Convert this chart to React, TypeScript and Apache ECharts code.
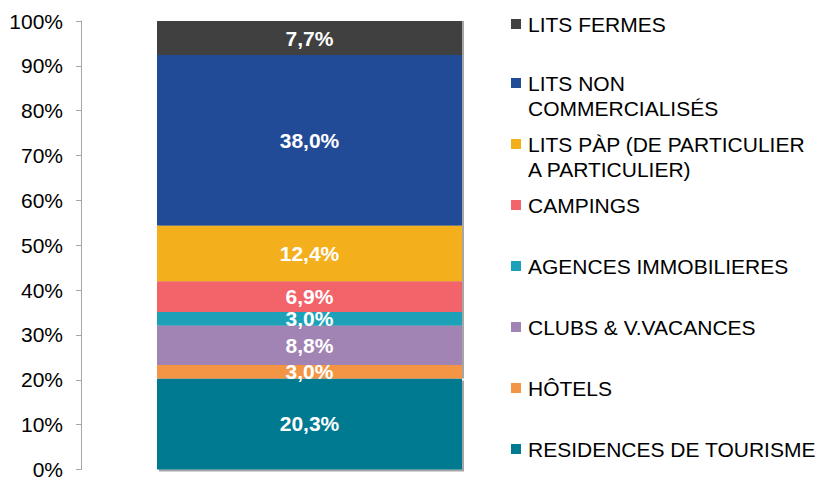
import React, { useEffect, useRef } from "react";
import * as echarts from "echarts";

// Stack order: bottom to top
const seriesNames = [
  "RESIDENCES DE TOURISME",
  "HÔTELS",
  "CLUBS & V.VACANCES",
  "AGENCES IMMOBILIERES",
  "CAMPINGS",
  "LITS PÀP (DE PARTICULIER A PARTICULIER)",
  "LITS NON COMMERCIALISÉS",
  "LITS FERMES",
];
const legendLabels = [
  "RESIDENCES DE TOURISME",
  "HÔTELS",
  "CLUBS & V.VACANCES",
  "AGENCES IMMOBILIERES",
  "CAMPINGS",
  "LITS PÀP (DE PARTICULIER\nA PARTICULIER)",
  "LITS NON\nCOMMERCIALISÉS",
  "LITS FERMES",
];
const values = [20.3, 3.0, 8.8, 3.0, 6.9, 12.4, 38.0, 7.7];
const colors = ["#007A91", "#F49545", "#A184B3", "#1CA1B8", "#F2636B", "#F3AF1B", "#214C97", "#404040"];
const categories = [""];

const FONT = "Liberation Sans, Arial, sans-serif";

export default function App() {
  const ref = useRef<HTMLDivElement>(null);
  useEffect(() => {
    if (!ref.current) return;
    const chart = echarts.init(ref.current, null, { renderer: "svg" });
    const n = seriesNames.length;
    const series = seriesNames.map((name, i) => ({
      name,
      type: "bar",
      stack: "total",
      barWidth: 305,
      data: [values[i]],
      itemStyle: {
        color: colors[i],
        shadowColor: "rgba(0,0,0,0.35)",
        shadowOffsetX: 2,
        shadowOffsetY: i === 0 ? 2 : 0,
        shadowBlur: 1,
      },
      label: {
        show: true,
        position: "inside",
        color: "#fff",
        fontWeight: "bold",
        fontSize: 21,
        fontFamily: FONT,
        formatter: (p: any) => p.value.toFixed(1).replace(".", ",") + "%",
      },
    }));
    const graphic: any[] = [];
    for (let k = 0; k < n; k++) {
      const i = n - 1 - k; // top of legend = top of stack
      const c = k === 0 ? 24 : 22 + 61 * k;
      graphic.push({
        type: "rect",
        left: 511,
        top: c - 5,
        shape: { width: 10, height: 10 },
        style: { fill: colors[i] },
      });
      graphic.push({
        type: "text",
        left: 528,
        top: c - 12.5,
        style: {
          text: legendLabels[i],
          fill: "#000",
          font: `21px ${FONT}`,
          lineHeight: 25,
          verticalAlign: "top",
        },
      });
    }
    chart.setOption({
      animation: false,
      grid: { left: 81, right: 283, top: 21, bottom: 9, containLabel: false },
      xAxis: {
        type: "category",
        data: categories,
        axisLine: { show: false },
        axisTick: { show: false },
        axisLabel: { show: false },
      },
      yAxis: {
        type: "value",
        min: 0,
        max: 100,
        interval: 10,
        axisLine: { show: true, lineStyle: { color: "#A6A6A6", width: 1 } },
        axisTick: { show: true, length: 5, lineStyle: { color: "#A6A6A6" } },
        splitLine: { show: false },
        axisLabel: {
          formatter: "{value}%",
          color: "#000",
          fontSize: 21,
          fontFamily: FONT,
          margin: 18,
        },
      },
      series,
      graphic,
    });
    return () => chart.dispose();
  }, []);
  return <div ref={ref} style={{ width: 821, height: 480, position: "absolute", left: 0, top: 0 }} />;
}
